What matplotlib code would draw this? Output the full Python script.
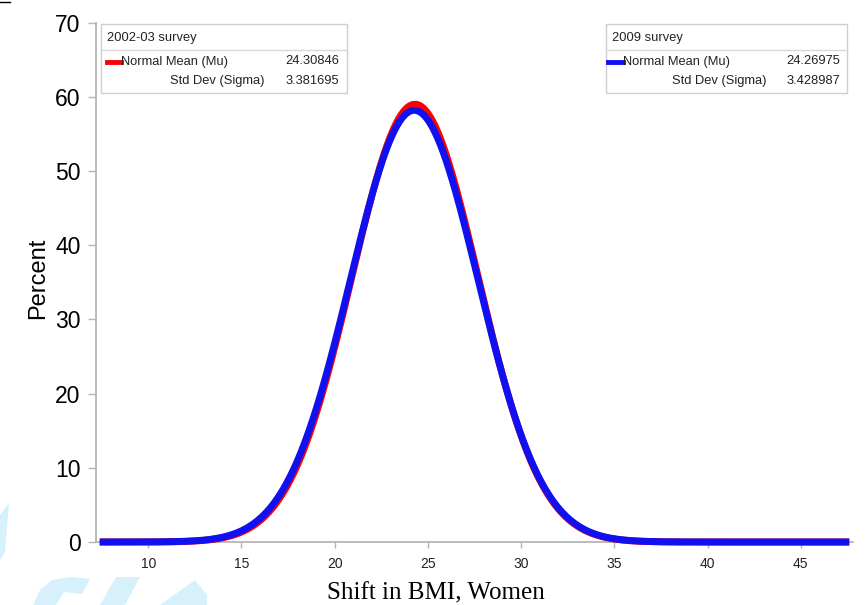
import numpy as np
import matplotlib
matplotlib.use("Agg")
import matplotlib.pyplot as plt
from matplotlib.patches import Rectangle, Polygon
from matplotlib.lines import Line2D

# fitted normal parameters
surveys = ["2002-03 survey", "2009 survey"]
mu_vals = [24.30846, 24.26975]
sigma_vals = [3.381695, 3.428987]
mu_txt = ["24.30846", "24.26975"]
sigma_txt = ["3.381695", "3.428987"]
colors = ["#ff0000", "#1010f0"]
pct_scale = 500  # percent per unit of density
x_start, x_end = 7.4, 47.6
x_ticks = [10, 15, 20, 25, 30, 35, 40, 45]
y_ticks = [0, 10, 20, 30, 40, 50, 60, 70]

W, H = 867, 605
fig = plt.figure(figsize=(W / 100, H / 100), dpi=100)


def fx(px):
    return px / W


def fy(py):
    return 1 - py / H


ax = fig.add_axes([fx(96), fy(542), fx(853) - fx(96), fy(22.5) - fy(542)])

xs = np.linspace(x_start, x_end, 800)
for mu, sd, c in zip(mu_vals, sigma_vals, colors):
    ys = pct_scale * np.exp(-0.5 * ((xs - mu) / sd) ** 2) / (sd * np.sqrt(2 * np.pi))
    ax.plot(xs, ys, color=c, lw=5, solid_capstyle="butt", clip_on=False, zorder=3)

ax.set_xlim(7.2, 47.8)
ax.set_ylim(0, 70)
ax.set_xticks(x_ticks)
ax.set_yticks(y_ticks)
for s in ["top", "right"]:
    ax.spines[s].set_visible(False)
for s in ["left", "bottom"]:
    ax.spines[s].set_color("#b5b5b5")
    ax.spines[s].set_linewidth(1.3)
ax.tick_params(axis="y", colors="#b5b5b5", length=6, width=1, labelsize=16.5,
               labelcolor="black", pad=5)
ax.tick_params(axis="x", colors="#b5b5b5", length=4, width=1, labelsize=10,
               labelcolor="#222222", pad=7)
for lab in ax.get_yticklabels():
    lab.set_family("Liberation Sans")
for lab in ax.get_xticklabels():
    lab.set_family("Liberation Sans")

ax.set_ylabel("Percent", fontsize=17, family="Liberation Sans")
ax.yaxis.set_label_coords(-0.062, 0.508)
ax.set_xlabel("Shift in BMI, Women", fontsize=18, family="Liberation Serif")
ax.xaxis.set_label_coords(0.449, -0.077)

# legend boxes (inset tables)
boxes = [
    dict(l=101, r=347, t=24, b=93, sep=50, sw=(107, 121), val_r=339, sd_r=265),
    dict(l=606, r=847, t=23.5, b=93, sep=49.5, sw=(608, 623), val_r=840, sd_r=767),
]
for i, bx in enumerate(boxes):
    fig.patches.append(Rectangle((fx(bx["l"]), fy(bx["b"])), fx(bx["r"]) - fx(bx["l"]),
                                 fy(bx["t"]) - fy(bx["b"]), transform=fig.transFigure,
                                 facecolor="white", edgecolor="#cfcfcf", lw=1, zorder=5))
    fig.lines.append(Line2D([fx(bx["l"]), fx(bx["r"])], [fy(bx["sep"])] * 2,
                            transform=fig.transFigure, color="#d8d8d8", lw=1, zorder=6))
    kw = dict(fontsize=9.3, family="Liberation Sans", color="#222222", zorder=7)
    fig.text(fx(bx["l"] + 6), fy(38), surveys[i], ha="left", va="center", **kw)
    fig.lines.append(Line2D([fx(bx["sw"][0]), fx(bx["sw"][1])], [fy(61.5)] * 2,
                            transform=fig.transFigure, color=colors[i], lw=3.5, zorder=7))
    fig.text(fx(bx["sw"][1]), fy(61.5), "Normal Mean (Mu)", ha="left", va="center", **kw)
    fig.text(fx(bx["val_r"]), fy(61.5), mu_txt[i], ha="right", va="center", **kw)
    fig.text(fx(bx["sd_r"]), fy(81), "Std Dev (Sigma)", ha="right", va="center", **kw)
    fig.text(fx(bx["val_r"]), fy(81), sigma_txt[i], ha="right", va="center", **kw)

# faint watermark shapes at the lower left
wm = "#d6f0fc"
shapes = [
    [(0, 515), (9, 503), (5, 552), (0, 560)],
    [(33, 605), (40, 590), (52, 580), (70, 577), (90, 579), (82, 594), (64, 592), (56, 605)],
    [(100, 605), (116, 577), (140, 577), (125, 605)],
    [(160, 605), (195, 580), (207, 595), (207, 605)],
]
for pts in shapes:
    fig.patches.append(Polygon([(fx(a), fy(b)) for a, b in pts], closed=True,
                               transform=fig.transFigure, facecolor=wm, edgecolor="none",
                               zorder=0))
fig.lines.append(Line2D([0, fx(10)], [fy(1.5)] * 2, transform=fig.transFigure,
                        color="black", lw=1))

fig.savefig("out.png", dpi=100)
